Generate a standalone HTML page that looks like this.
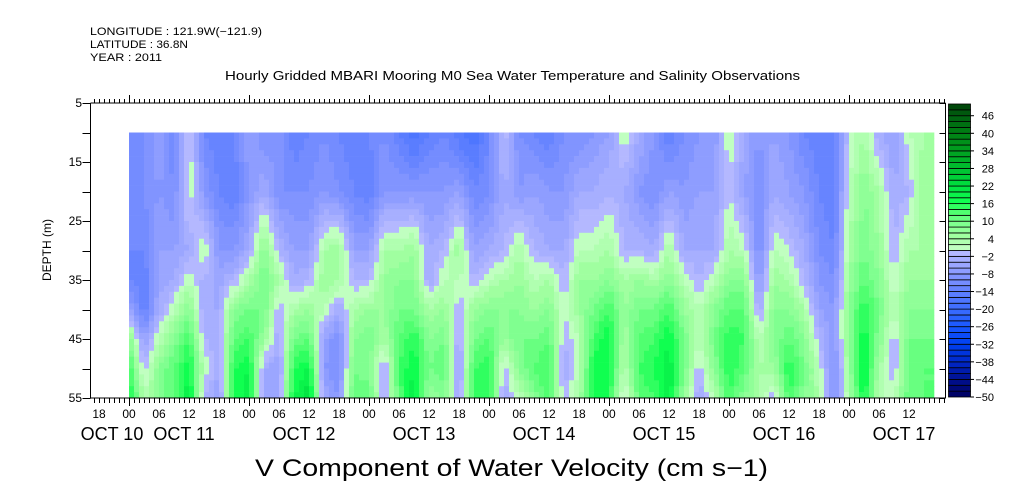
<!DOCTYPE html>
<html><head><meta charset="utf-8">
<style>
html,body{margin:0;padding:0;background:#fff;}
svg{display:block;font-family:"Liberation Sans",sans-serif;}
</style></head>
<body>
<svg id="chart" width="1009" height="504" viewBox="0 0 1009 504">
  <g font-size="11" fill="#000">
    <text x="90" y="35" textLength="172" lengthAdjust="spacingAndGlyphs">LONGITUDE : 121.9W(−121.9)</text>
    <text x="90" y="48" textLength="98" lengthAdjust="spacingAndGlyphs">LATITUDE : 36.8N</text>
    <text x="90" y="61" textLength="72" lengthAdjust="spacingAndGlyphs">YEAR : 2011</text>
  </g>
  <text x="225" y="80" textLength="575" lengthAdjust="spacingAndGlyphs" font-size="12.5">Hourly Gridded MBARI Mooring M0 Sea Water Temperature and Salinity Observations</text>
  <g id="cells"></g>
  <g id="axes"></g>
  <g id="cbar"></g>
  <text x="255" y="476" textLength="513" lengthAdjust="spacingAndGlyphs" font-size="24">V Component of Water Velocity (cm s−1)</text>
  <text x="0" y="0" transform="translate(51,250) rotate(-90)" text-anchor="middle" font-size="12">DEPTH (m)</text>
</svg>
<script>
// depth levels (m)
const depths = [10, 20, 30, 35, 40, 45, 50, 55];
// sample times: hours since OCT 11 00:00, every 3 hours
const hours = Array.from({length: 54}, (_, k) => k * 3);
// V velocity (cm/s) at each depth row
const v10 = [-12,-10,-6,-12,2,-12,-14,-12,-6,-10,-8,-14,-12,-10,-12,-14,-12,-10,-14,-18,-14,-12,-16,-18,-12,0,-10,-12,-14,-10,-10,-8,-6,2,-4,-8,-14,-10,-8,-8,2,-4,-8,-6,-8,-12,-14,-14,0,4,-4,-6,2,4];
const v20 = [-12,-10,-8,-10,2,-8,-12,-14,-8,-4,-10,-10,-10,-8,-10,-12,-14,-8,-8,-8,-8,-8,-6,-12,-10,-4,-8,-6,-8,-8,-4,-4,-2,-4,-8,-10,-6,-8,-6,-6,0,-6,-10,-4,-6,-8,-12,-14,2,8,4,-4,-2,6];
const v30 = [-12,-12,-6,-6,-4,3,-8,-8,-4,8,-2,-6,-6,4,6,-6,-6,4,4,6,-4,-2,6,-6,-4,-2,4,-2,-4,-4,2,2,4,-2,-2,-4,4,-4,-4,-4,4,2,-10,2,0,-4,-10,-12,4,10,6,-2,4,4];
const v35 = [-12,-14,-5,-4,2,-3,-5,-2,4,10,4,-4,-2,6,4,-2,-2,6,8,8,-4,2,2,-2,2,4,6,2,4,-2,6,6,8,4,6,4,8,2,-2,2,8,8,-8,6,4,-2,-8,-10,6,12,8,0,6,6];
const v40 = [-5,-14,-4,2,8,-4,-4,8,10,10,-2,4,6,2,-4,4,6,6,10,10,4,6,-2,6,8,8,8,6,8,0,6,10,14,6,10,10,14,6,2,8,12,12,-4,8,8,4,-6,-8,8,16,10,2,8,8];
const v45 = [8,-6,2,8,14,-2,-3,12,14,6,-4,10,12,-6,-10,8,10,4,12,16,8,10,-4,10,12,6,10,10,12,-2,2,14,18,4,12,14,18,10,2,10,16,14,2,8,12,8,-2,-8,8,18,8,-2,10,10];
const v50 = [15,-2,8,12,18,2,-4,16,18,-4,-6,16,18,-8,-10,10,8,-4,14,18,10,12,-6,14,16,-2,8,12,14,-4,2,18,18,2,14,16,20,10,-2,8,16,12,4,6,16,10,2,-10,6,20,4,-2,10,12];
const v55 = [18,3,8,12,20,-2,-6,16,20,-6,-4,18,22,-4,-8,12,12,-3,12,20,6,8,-4,14,16,-4,2,8,14,-2,4,18,16,-2,12,14,20,6,-4,2,14,8,4,-2,14,8,4,-10,4,18,2,2,12,12];
const rows = [v10, v20, v30, v35, v40, v45, v50, v55];
const yTicks = ["5","15","25","35","45","55"];
const cbarLabels = ["46","40","34","28","22","16","10","4","−2","−8","−14","−20","−26","−32","−38","−44","−50"];
const tStart = 0, tEnd = 161; // data span in hours
const NS = "http://www.w3.org/2000/svg";

// axis functions
const X0 = 129, PX_PER_H = 5;
const xOf = h => X0 + h * PX_PER_H;
const Y_TOP = 103, Y_BOT = 398;
const yOf = d => Y_TOP + (d - 5) / 50 * (Y_BOT - Y_TOP);
const CB_TOP = 104, CB_BOT = 397;
const cbY = v => CB_TOP + (50 - v) / 100 * (CB_BOT - CB_TOP);

const stops = [
  [-50,[0,0,96]],[-44,[0,16,144]],[-38,[0,40,200]],[-32,[0,64,240]],[-26,[24,88,255]],
  [-20,[60,108,255]],[-14,[96,128,255]],[-8,[136,152,255]],[-1,[180,184,255]],
  [1,[192,255,192]],[5,[160,255,160]],[9,[128,255,144]],[13,[80,255,112]],[17,[16,255,80]],
  [22,[0,224,64]],[28,[0,192,48]],[34,[0,160,32]],[40,[0,128,20]],[46,[0,96,16]],[50,[0,64,8]]
];
function colorAt(v){
  if(v<=stops[0][0]) return stops[0][1];
  for(let i=1;i<stops.length;i++){
    if(v<=stops[i][0]){
      const a=stops[i-1],b=stops[i],t=(v-a[0])/(b[0]-a[0]);
      return a[1].map((c,j)=>Math.round(c+(b[1][j]-c)*t));
    }
  }
  return stops[stops.length-1][1];
}
function binColor(v){
  let b=Math.floor(v/2); b=Math.max(-25,Math.min(24,b));
  const c=colorAt(b*2+1);
  return `rgb(${c[0]},${c[1]},${c[2]})`;
}
function valAt(h,d){
  let k=Math.floor(h/3); let tf=(h-hours[Math.min(k,hours.length-1)])/3;
  if(k>=hours.length-1){k=hours.length-2;tf=1;}
  tf=Math.max(0,Math.min(1,tf));
  let r=0;
  while(r<depths.length-2 && d>depths[r+1]) r++;
  let df=(d-depths[r])/(depths[r+1]-depths[r]); df=Math.max(0,Math.min(1,df));
  const a=rows[r][k]*(1-tf)+rows[r][k+1]*tf;
  const b=rows[r+1][k]*(1-tf)+rows[r+1][k+1]*tf;
  return a*(1-df)+b*df;
}

const cells=document.getElementById('cells');
for(let h=tStart;h<tEnd;h++){
  for(let d=10;d<55;d+=1){
    const v=valAt(h+0.5,d+0.5);
    const r=document.createElementNS(NS,'rect');
    
    
    const x1=xOf(h), y1=yOf(d), y2=yOf(d+1);
    r.setAttribute('x',x1);r.setAttribute('y',y1.toFixed(2));
    r.setAttribute('width',PX_PER_H+0.3);r.setAttribute('height',(y2-y1+0.3).toFixed(2));
    r.setAttribute('fill',binColor(v));
    cells.appendChild(r);
  }
}

const axes=document.getElementById('axes');
function line(x1,y1,x2,y2,name){
  const l=document.createElementNS(NS,'line');
  
  
  l.setAttribute('x1',x1);l.setAttribute('y1',y1);l.setAttribute('x2',x2);l.setAttribute('y2',y2);
  l.setAttribute('stroke','#000');l.setAttribute('stroke-width','1');
  axes.appendChild(l);
}
function text(x,y,s,size,anchor,name){
  const t=document.createElementNS(NS,'text');
  
  
  t.setAttribute('x',x);t.setAttribute('y',y);t.setAttribute('font-size',size);
  t.setAttribute('text-anchor',anchor);t.textContent=s;
  axes.appendChild(t);
  return t;
}
const XL=90.5, XR=945.5;
line(XL,Y_TOP,XR,Y_TOP,'top-axis');
line(XL,Y_BOT,XR,Y_BOT,'bottom-axis');
line(XL,Y_TOP,XL,Y_BOT,'left-axis');
line(XR,Y_TOP,XR,Y_BOT,'right-axis');
for(let h=-7;h<=163;h++){
  const x=xOf(h)+0.5;
  if(x<=XL||x>=XR) continue;
  const major=((h%24)+24)%24===0;
  line(x,Y_BOT,x,Y_BOT+(major?8:5),'x-tick');
  line(x,Y_TOP,x,Y_TOP-(major?8:4),'x-tick-top');
}
for(let h=-6;h<=156;h+=6){
  const hh=((h%24)+24)%24;
  text(xOf(h),418,String(hh).padStart(2,'0'),12,'middle','x-tick-label');
}
const dayNames=["OCT 10","OCT 11","OCT 12","OCT 13","OCT 14","OCT 15","OCT 16","OCT 17"];
text(112,440,dayNames[0],18,'middle','x-date-label');
for(let i=1;i<dayNames.length;i++) text(xOf((i-1)*24+12)-5,440,dayNames[i],18,'middle','x-date-label');
for(let d=5;d<=55;d+=5){
  const y=Math.round(yOf(d))+0.5;
  line(XL-8,y,XL,y,'y-tick');
  line(XR-6,y,XR,y,'y-tick-right');
}
yTicks.forEach(s=>{
  const y=yOf(+s);
  text(82,y+4,s,12,'end','y-tick-label');
});

const cb=document.getElementById('cbar');
for(let v=-50;v<50;v+=2){
  const r=document.createElementNS(NS,'rect');
  
  
  const y1=cbY(v+2),y2=cbY(v);
  r.setAttribute('x',948.5);r.setAttribute('y',y1.toFixed(2));
  r.setAttribute('width',22);r.setAttribute('height',(y2-y1).toFixed(2));
  r.setAttribute('fill',binColor(v+1));r.setAttribute('stroke','#000');r.setAttribute('stroke-width','0.8');
  cb.appendChild(r);
}
cbarLabels.forEach(s=>{
  const v=parseFloat(s.replace('−','-'));
  const y=cbY(v);
  const l=document.createElementNS(NS,'line');
  
  
  l.setAttribute('x1',970.5);l.setAttribute('x2',974);l.setAttribute('y1',y);l.setAttribute('y2',y);
  l.setAttribute('stroke','#000');
  cb.appendChild(l);
  const t=document.createElementNS(NS,'text');
  
  
  t.setAttribute('x',994);t.setAttribute('y',y+4);t.setAttribute('font-size',11);
  t.setAttribute('text-anchor','end');t.textContent=s;
  cb.appendChild(t);
});
</script>
</body></html>
